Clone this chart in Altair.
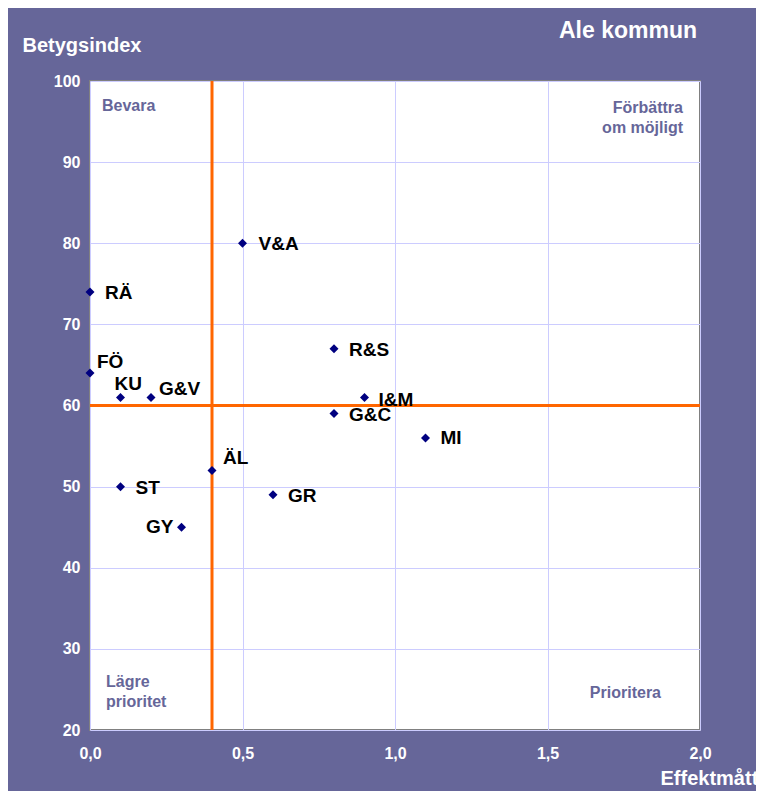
import altair as alt
import pandas as pd

labels = ["V&A", "RÄ", "FÖ", "KU", "G&V", "R&S", "I&M", "G&C", "MI", "ÄL", "ST", "GR", "GY"]
effekt = [0.5, 0.0, 0.0, 0.1, 0.2, 0.8, 0.9, 0.8, 1.1, 0.4, 0.1, 0.6, 0.3]
betyg = [80, 74, 64, 61, 61, 67, 61, 59, 56, 52, 50, 49, 45]
ref_x = [0.4]
ref_y = [60]
x_ticks = [0.0, 0.5, 1.0, 1.5, 2.0]
y_ticks = [20, 30, 40, 50, 60, 70, 80, 90, 100]

df = pd.DataFrame({"label": labels, "x": effekt, "y": betyg})

FONT = "Liberation Sans"
BG = "#666699"

# label offsets (dx, dy, align) -- layout only
offsets = {
    "V&A": (16, 1, "left"), "RÄ": (15, 1, "left"), "FÖ": (7, -11, "left"),
    "KU": (-6, -13, "left"), "G&V": (8, -8, "left"), "R&S": (15, 1, "left"),
    "I&M": (14, 3, "left"), "G&C": (15, 1, "left"), "MI": (15, 0, "left"),
    "ÄL": (11, -12, "left"), "ST": (15, 1, "left"), "GR": (15, 1, "left"),
    "GY": (-8, 0, "right"),
}

xscale = alt.Scale(domain=[0, 2], nice=False, zero=False)
yscale = alt.Scale(domain=[20, 100], nice=False, zero=False)

xaxis = alt.Axis(
    values=x_ticks, labelExpr="replace(format(datum.value, '.1f'), '.', ',')",
    grid=True, gridColor="#ccccff", gridWidth=1, ticks=False, domain=False,
    labelColor="white", labelFont=FONT, labelFontSize=16, labelFontWeight="bold",
    labelPadding=15, labelFlush=False,
    title="Effektmått", titleColor="white", titleFont=FONT, titleFontSize=20,
    titleFontWeight="bold", titleX=570, titleY=48, titleAlign="left",
    titleBaseline="middle", titleAnchor="start",
)
yaxis = alt.Axis(
    values=y_ticks, grid=True, gridColor="#ccccff", gridWidth=1, ticks=False,
    domain=False, labelColor="white", labelFont=FONT, labelFontSize=16,
    labelFontWeight="bold", labelPadding=10, labelFlush=False,
    title="Betygsindex", titleColor="white", titleFont=FONT, titleFontSize=20,
    titleFontWeight="bold", titleAngle=0, titleX=-68, titleY=-36,
    titleAlign="left", titleBaseline="middle", titleAnchor="start",
)

base = alt.Chart(df)

points = base.mark_point(shape="diamond", filled=True, size=81, color="#000080", opacity=1).encode(
    x=alt.X("x:Q", scale=xscale, axis=xaxis),
    y=alt.Y("y:Q", scale=yscale, axis=yaxis),
)

vrule = alt.Chart(pd.DataFrame({"x": ref_x})).mark_rule(color="#FF6600", strokeWidth=3).encode(
    x=alt.X("x:Q", scale=xscale)
)
hrule = alt.Chart(pd.DataFrame({"y": ref_y})).mark_rule(color="#FF6600", strokeWidth=3).encode(
    y=alt.Y("y:Q", scale=yscale)
)

text_layers = []
for lab in labels:
    dx, dy, al = offsets[lab]
    text_layers.append(
        base.transform_filter(alt.datum.label == lab).mark_text(
            dx=dx, dy=dy, align=al, baseline="middle", font=FONT, fontSize=19,
            fontWeight="bold", color="black"
        ).encode(x=alt.X("x:Q", scale=xscale), y=alt.Y("y:Q", scale=yscale), text="label:N")
    )

quad_style = dict(font=FONT, fontSize=16, fontWeight="bold", color=BG, baseline="middle", lineHeight=20)
bevara = alt.Chart(pd.DataFrame({"t": ["Bevara"]})).mark_text(align="left", **quad_style).encode(
    text="t:N", x=alt.value(12), y=alt.value(25))
forb = alt.Chart(pd.DataFrame({"t": [["Förbättra", "om möjligt"]]})).mark_text(align="right", **quad_style).encode(
    text="t", x=alt.value(593), y=alt.value(27))
lagre = alt.Chart(pd.DataFrame({"t": [["Lägre", "prioritet"]]})).mark_text(align="left", **quad_style).encode(
    text="t", x=alt.value(16), y=alt.value(601))
prio = alt.Chart(pd.DataFrame({"t": ["Prioritera"]})).mark_text(align="right", **quad_style).encode(
    text="t:N", x=alt.value(571), y=alt.value(612))

title = alt.Chart(pd.DataFrame({"t": ["Ale kommun"]})).mark_text(
    align="right", baseline="middle", font=FONT, fontSize=23, fontWeight="bold", color="white"
).encode(text="t:N", x=alt.value(607), y=alt.value(-50))

chart = alt.layer(
    vrule, hrule, points, *text_layers, bevara, forb, lagre, prio, title
).properties(
    width=610, height=649,
    autosize=alt.AutoSizeParams(type="none"),
    padding={"left": 82, "top": 73, "right": 56, "bottom": 61},
    background=BG,
).configure_view(
    fill="white", stroke="#808080", strokeWidth=2
)

chart.save("out.html", embed_options={"renderer": "svg", "actions": False})
